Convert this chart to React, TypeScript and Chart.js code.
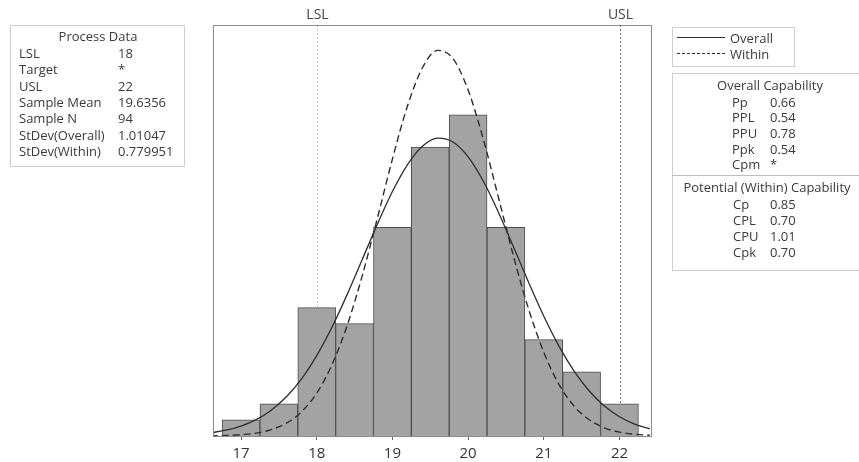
import React, { useEffect, useRef } from "react";
import { Chart, registerables } from "chart.js";

Chart.register(...registerables);

// ---- Data ----
const binCenters = [17, 17.5, 18, 18.5, 19, 19.5, 20, 20.5, 21, 21.5, 22];
const binCounts = [1, 2, 8, 7, 13, 18, 20, 13, 6, 4, 2];

const curveX = [
  16.6, 16.8, 17.0, 17.2, 17.4, 17.6, 17.8, 18.0, 18.2, 18.4, 18.6, 18.8, 19.0, 19.2, 19.4,
  19.6, 19.8, 20.0, 20.2, 20.4, 20.6, 20.8, 21.0, 21.2, 21.4, 21.6, 21.8, 22.0, 22.2, 22.4,
];
const overallCurve = [
  0.2, 0.36, 0.62, 1.02, 1.61, 2.44, 3.56, 5.01, 6.76, 8.79, 10.98, 13.18, 15.23, 16.91, 18.06,
  18.55, 18.31, 17.39, 15.88, 13.94, 11.77, 9.56, 7.46, 5.6, 4.04, 2.8, 1.87, 1.2, 0.74, 0.44,
];
const withinCurve = [
  0.01, 0.03, 0.08, 0.18, 0.4, 0.8, 1.51, 2.67, 4.42, 6.85, 9.96, 13.54, 17.25, 20.57, 22.97,
  24.02, 23.51, 21.55, 18.5, 14.87, 11.19, 7.89, 5.21, 3.22, 1.86, 1.01, 0.51, 0.24, 0.11, 0.05,
];

const xTickValues = [17, 18, 19, 20, 21, 22];
const lslValue = 18;
const uslValue = 22;

const processLabels = ["LSL", "Target", "USL", "Sample Mean", "Sample N", "StDev(Overall)", "StDev(Within)"];
const processValues = ["18", "*", "22", "19.6356", "94", "1.01047", "0.779951"];

const overallLabels = ["Pp", "PPL", "PPU", "Ppk", "Cpm"];
const overallValues = ["0.66", "0.54", "0.78", "0.54", "*"];

const withinLabels = ["Cp", "CPL", "CPU", "Cpk"];
const withinValues = ["0.85", "0.70", "1.01", "0.70"];

const FONT = "'Open Sans', 'Noto Sans', sans-serif";
const TEXT = "#3a3a3a";

const specPlugin = {
  id: "specPlugin",
  beforeDatasetsDraw(chart: any) {
    const { ctx, chartArea } = chart;
    const xs = chart.scales.x;
    ctx.save();
    const drawSpec = (v: number, color: string, label: string) => {
      const px = Math.round(xs.getPixelForValue(v)) + 0.5;
      ctx.strokeStyle = color;
      ctx.lineWidth = 1;
      ctx.setLineDash([2, 2]);
      ctx.beginPath();
      ctx.moveTo(px, chartArea.top);
      ctx.lineTo(px, chartArea.bottom);
      ctx.stroke();
      ctx.setLineDash([]);
      ctx.fillStyle = "#444";
      ctx.font = `14px ${FONT}`;
      ctx.textAlign = "center";
      ctx.textBaseline = "middle";
      ctx.fillText(label, px, chartArea.top - 10);
    };
    drawSpec(lslValue, "#c4c4c4", "LSL");
    drawSpec(uslValue, "#777777", "USL");
    ctx.restore();
  },
  afterDraw(chart: any) {
    const { ctx, chartArea } = chart;
    ctx.save();
    ctx.strokeStyle = "#8c8c8c";
    ctx.lineWidth = 1;
    ctx.strokeRect(
      Math.round(chartArea.left) + 0.5,
      Math.round(chartArea.top) + 0.5,
      Math.round(chartArea.right - chartArea.left),
      Math.round(chartArea.bottom - chartArea.top)
    );
    ctx.restore();
  },
};

function ChartCanvas() {
  const ref = useRef<HTMLCanvasElement | null>(null);
  useEffect(() => {
    if (!ref.current) return;
    const chart = new Chart(ref.current, {
      type: "bar",
      data: {
        datasets: [
          {
            type: "line",
            label: "Overall",
            data: curveX.map((x, i) => ({ x, y: overallCurve[i] })),
            borderColor: "#2e2e2e",
            borderWidth: 1.3,
            pointRadius: 0,
            cubicInterpolationMode: "monotone",
            fill: false,
            order: 1,
          } as any,
          {
            type: "line",
            label: "Within",
            data: curveX.map((x, i) => ({ x, y: withinCurve[i] })),
            borderColor: "#2e2e2e",
            borderWidth: 1.4,
            borderDash: [7, 4],
            pointRadius: 0,
            cubicInterpolationMode: "monotone",
            fill: false,
            order: 2,
          } as any,
          {
            type: "bar",
            label: "Counts",
            data: binCenters.map((x, i) => ({ x, y: binCounts[i] })),
            backgroundColor: "#a3a3a3",
            borderColor: "#4e4e4e",
            borderWidth: 1,
            barPercentage: 1,
            categoryPercentage: 1,
            grouped: false,
            order: 3,
          } as any,
        ],
      },
      options: {
        responsive: false,
        animation: false,
        layout: { padding: { left: 213, right: 208, top: 25, bottom: 0 } },
        plugins: { legend: { display: false }, tooltip: { enabled: false } },
        scales: {
          x: {
            type: "linear",
            offset: false,
            min: 16.63,
            max: 22.416,
            afterBuildTicks: (s: any) => {
              s.ticks = xTickValues.map((v) => ({ value: v }));
            },
            afterFit: (s: any) => {
              s.height = 26;
            },
            grid: {
              display: true,
              offset: false,
              drawOnChartArea: false,
              drawTicks: true,
              tickLength: 4,
              color: "#666",
            },
            border: { display: true, color: "#8c8c8c" },
            ticks: {
              padding: 5,
              color: "#333",
              font: { family: FONT, size: 15 },
              callback: (v: any) => String(v),
            },
          },
          y: {
            type: "linear",
            display: false,
            min: 0,
            max: 25.6,
          },
        },
      },
      plugins: [specPlugin],
    });
    return () => chart.destroy();
  }, []);
  return (
    <canvas
      ref={ref}
      width={859}
      height={462}
      style={{ position: "absolute", left: 0, top: 0, width: 859, height: 462 }}
    />
  );
}

const txt = (
  content: string,
  left: number,
  cy: number,
  extra: React.CSSProperties = {}
): React.ReactElement => (
  <div
    key={`${content}-${left}-${cy}`}
    style={{
      position: "absolute",
      left,
      top: cy - 9,
      height: 18,
      lineHeight: "18px",
      fontSize: 13,
      fontFamily: FONT,
      color: TEXT,
      whiteSpace: "nowrap",
      ...extra,
    }}
  >
    {content}
  </div>
);

const centered = (content: string, cx: number, cy: number) =>
  txt(content, cx - 150, cy, { width: 300, textAlign: "center" });

export default function App() {
  return (
    <div
      style={{
        position: "fixed",
        left: 0,
        top: 0,
        width: 859,
        height: 462,
        background: "#fff",
        overflow: "hidden",
      }}
    >
      <ChartCanvas />

      {/* Process Data panel */}
      <div
        style={{
          position: "absolute",
          left: 10,
          top: 25,
          width: 175,
          height: 142,
          border: "1px solid #cfcfcf",
          boxSizing: "border-box",
        }}
      />
      {centered("Process Data", 98, 36)}
      {processLabels.map((l, i) => txt(l, 19, 53 + i * 16.3))}
      {processValues.map((v, i) => txt(v, 118, 53 + i * 16.3))}

      {/* Legend */}
      <div
        style={{
          position: "absolute",
          left: 672,
          top: 27,
          width: 123,
          height: 40,
          border: "1px solid #cfcfcf",
          boxSizing: "border-box",
        }}
      />
      <div style={{ position: "absolute", left: 677, top: 37, width: 48, borderTop: "1.5px solid #2e2e2e" }} />
      {txt("Overall", 730, 38)}
      <div style={{ position: "absolute", left: 677, top: 53, width: 48, borderTop: "1.5px dashed #2e2e2e" }} />
      {txt("Within", 730, 54)}

      {/* Capability panel */}
      <div
        style={{
          position: "absolute",
          left: 672,
          top: 73,
          width: 190,
          height: 198,
          border: "1px solid #cfcfcf",
          boxSizing: "border-box",
        }}
      />
      <div style={{ position: "absolute", left: 672, top: 175, width: 190, borderTop: "1px solid #bdbdbd" }} />
      {centered("Overall Capability", 770, 85)}
      {overallLabels.map((l, i) => txt(l, 732, 101.5 + i * 15.7))}
      {overallValues.map((v, i) => txt(v, 770, 101.5 + i * 15.7))}
      {centered("Potential (Within) Capability", 767, 187)}
      {withinLabels.map((l, i) => txt(l, 733, 204 + i * 16))}
      {withinValues.map((v, i) => txt(v, 770, 204 + i * 16))}
    </div>
  );
}
